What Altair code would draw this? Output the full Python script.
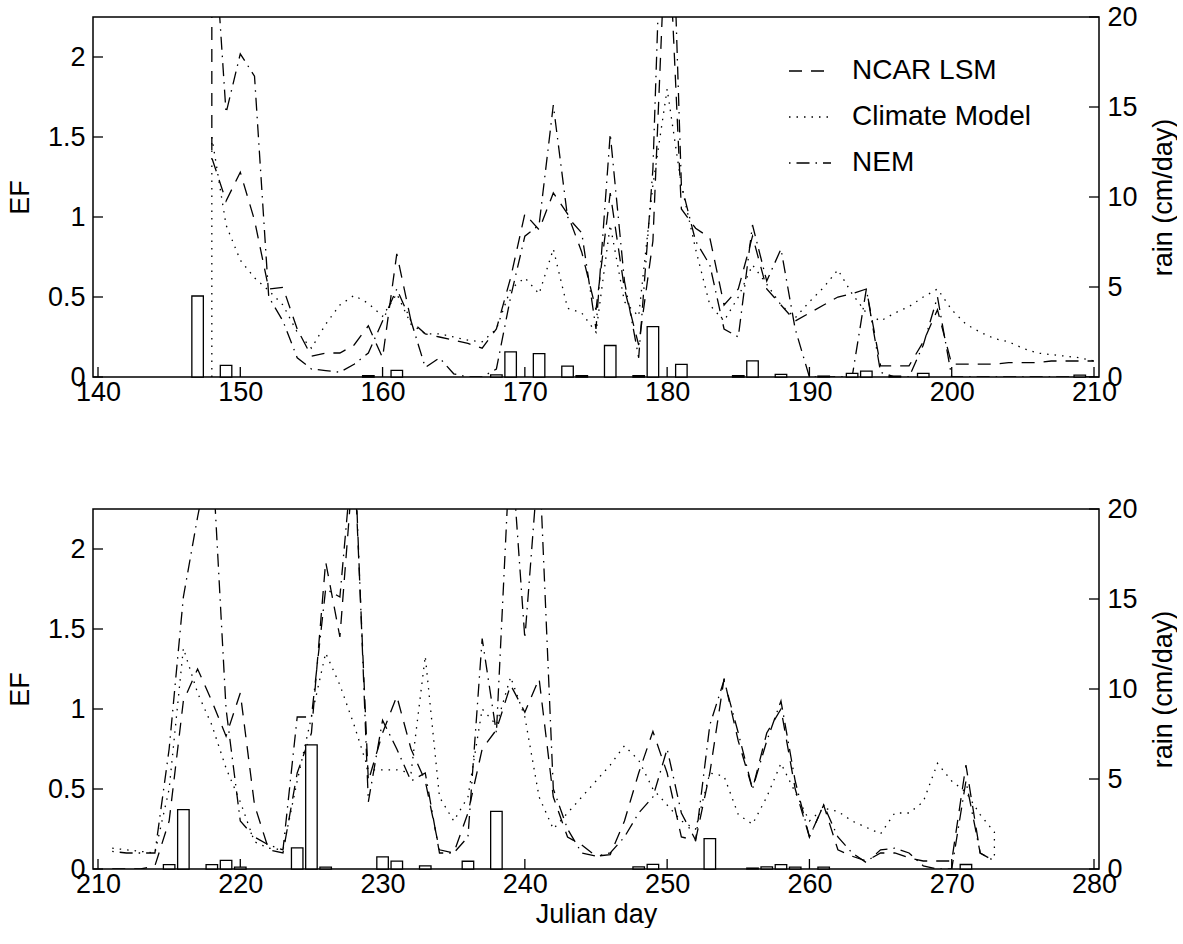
import altair as alt
import pandas as pd

SERIES = ["NCAR LSM", "Climate Model", "NEM"]

# ---------------- top panel (days 140-210) ----------------
top_ncar_days = [148] + list(range(148, 211))
top_ncar = [2.60, 1.37,
            1.10, 1.28, 0.98, 0.55, 0.56, 0.30, 0.13, 0.15, 0.15, 0.20,
            0.32, 0.12, 0.77, 0.35, 0.27, 0.25, 0.23, 0.21, 0.18, 0.30,
            0.62, 1.02, 0.92, 1.15, 1.02, 0.78, 0.42, 1.15, 0.55, 0.20,
            0.85, 3.00, 1.05, 0.93, 0.87, 0.45, 0.55, 0.88, 0.55, 0.45,
            0.35, 0.40, 0.45, 0.50, 0.52, 0.55, 0.07, 0.07, 0.07, 0.22,
            0.42, 0.08, 0.08, 0.08, 0.08, 0.09, 0.09, 0.09, 0.10, 0.10,
            0.10, 0.10]

top_clim_days = [148] + list(range(148, 211))
top_clim = [0.00, 1.50,
            0.95, 0.73, 0.62, 0.54, 0.45, 0.28, 0.18, 0.33, 0.45, 0.51,
            0.46, 0.38, 0.52, 0.33, 0.27, 0.27, 0.25, 0.23, 0.22, 0.30,
            0.55, 0.62, 0.52, 0.80, 0.43, 0.40, 0.28, 0.95, 0.47, 0.38,
            1.20, 1.80, 1.20, 0.80, 0.45, 0.35, 0.50, 0.70, 0.58, 0.45,
            0.37, 0.47, 0.56, 0.67, 0.52, 0.40, 0.35, 0.40, 0.44, 0.50,
            0.55, 0.42, 0.33, 0.28, 0.24, 0.22, 0.18, 0.15, 0.14, 0.13,
            0.12, 0.10]

top_nem_days = list(range(148, 211))
top_nem = [3.00, 1.65, 2.02, 1.88, 0.50, 0.35, 0.12, 0.05, 0.04, 0.03,
           0.08, 0.15, 0.35, 0.55, 0.35, 0.06, 0.12, 0.02, 0.00, 0.00,
           0.05, 0.50, 0.88, 0.95, 1.70, 1.00, 0.90, 0.30, 1.52, 0.60,
           0.12, 1.30, 4.00, 1.20, 0.85, 0.70, 0.30, 0.25, 0.95, 0.60,
           0.80, 0.30, 0.00, 0.00, 0.00, 0.00, 0.55, 0.03, 0.00, 0.00,
           0.20, 0.50, 0.00, 0.00, 0.00, 0.00, 0.00, 0.00, 0.00, 0.00,
           0.00, 0.00, 0.00]

top_rain_days = [147, 149, 159, 161, 168, 169, 171, 173, 174, 176, 178,
                 179, 181, 185, 186, 188, 191, 193, 194, 196, 198, 209]
top_rain = [4.5, 0.65, 0.08, 0.37, 0.12, 1.4, 1.3, 0.6, 0.08, 1.75, 0.08,
            2.8, 0.7, 0.08, 0.9, 0.15, 0.05, 0.2, 0.33, 0.05, 0.2, 0.1]

# ---------------- bottom panel (days 210-280) ----------------
bot_ncar_days = list(range(211, 274))
bot_ncar = [0.00, 0.00, 0.00, 0.02, 0.30, 1.05, 1.25, 1.05, 0.83, 1.10,
            0.40, 0.12, 0.10, 0.60, 0.85, 1.92, 1.45, 2.60, 0.55, 0.85,
            1.08, 0.75, 0.55, 0.12, 0.10, 0.35, 0.75, 0.87, 1.15, 0.98,
            1.19, 0.45, 0.20, 0.15, 0.08, 0.09, 0.30, 0.60, 0.86, 0.60,
            0.20, 0.18, 0.60, 1.19, 0.80, 0.50, 0.85, 1.00, 0.50, 0.20,
            0.40, 0.12, 0.08, 0.05, 0.10, 0.10, 0.07, 0.05, 0.05, 0.05,
            0.65, 0.10, 0.05]

bot_nem_days = list(range(211, 274))
bot_nem = [0.11, 0.10, 0.10, 0.10, 0.75, 1.70, 2.20, 2.65, 1.00, 0.30,
           0.20, 0.15, 0.12, 0.95, 0.95, 1.75, 1.70, 2.70, 0.42, 0.93,
           0.75, 0.55, 0.60, 0.10, 0.10, 0.20, 1.44, 0.85, 2.70, 1.44,
           2.60, 0.50, 0.25, 0.10, 0.08, 0.10, 0.20, 0.35, 0.45, 0.75,
           0.35, 0.18, 0.90, 1.18, 0.85, 0.50, 0.80, 1.05, 0.55, 0.20,
           0.40, 0.20, 0.10, 0.04, 0.12, 0.13, 0.10, 0.02, 0.00, 0.00,
           0.55, 0.10, 0.05]

bot_clim_days = list(range(211, 274)) + [273]
bot_clim = [0.13, 0.12, 0.11, 0.10, 0.50, 1.38, 1.10, 0.90, 0.63, 0.42,
            0.17, 0.13, 0.12, 0.55, 0.95, 1.35, 1.15, 0.90, 0.62, 0.62,
            0.62, 0.60, 1.33, 0.45, 0.30, 0.45, 1.00, 0.90, 1.20, 0.95,
            0.45, 0.25, 0.35, 0.45, 0.55, 0.65, 0.77, 0.68, 0.50, 0.40,
            0.30, 0.25, 0.60, 0.58, 0.34, 0.28, 0.45, 0.66, 0.48, 0.30,
            0.38, 0.36, 0.30, 0.26, 0.22, 0.35, 0.35, 0.42, 0.66, 0.55,
            0.48, 0.34, 0.23,
            0.06]

bot_rain_days = [215, 216, 218, 219, 220, 224, 225, 226, 230, 231, 233,
                 236, 238, 248, 249, 253, 256, 257, 258, 259, 261, 271]
bot_rain = [0.24, 3.3, 0.24, 0.48, 0.1, 1.17, 6.9, 0.1, 0.67, 0.44, 0.17,
            0.43, 3.2, 0.12, 0.26, 1.69, 0.05, 0.12, 0.24, 0.1, 0.1, 0.25]

ef_ticks = [0, 0.5, 1, 1.5, 2]
rain_ticks = [0, 5, 10, 15, 20]
top_xticks = [140, 150, 160, 170, 180, 190, 200, 210]
bot_xticks = [210, 220, 230, 240, 250, 260, 270, 280]

W, H = 1006, 360
FONT = "Liberation Sans"
FS = 27


def series_df(days, vals, name):
    assert len(days) == len(vals), (name, len(days), len(vals))
    return pd.DataFrame({"day": days, "ef": vals, "series": name,
                         "idx": list(range(len(days)))})


def panel(ncar, clim, nem, rain_days, rain_vals, xticks, legend, xtitle):
    lines_df = pd.concat([series_df(*ncar, "NCAR LSM"),
                          series_df(*clim, "Climate Model"),
                          series_df(*nem, "NEM")], ignore_index=True)
    rain_df = pd.DataFrame({"day": rain_days, "rain": rain_vals})

    xaxis = alt.Axis(values=xticks, tickSize=0, labelPadding=2, domain=False,
                     grid=False, labelFontSize=FS, labelFont=FONT,
                     labelColor="black", labelFlush=False,
                     title=xtitle if xtitle else None,
                     titleFontSize=FS, titleFont=FONT,
                     titleFontWeight="normal", titleColor="black",
                     titlePadding=4)
    X = alt.X("day:Q", scale=alt.Scale(domain=[xticks[0], xticks[-1]], nice=False,
                                       zero=False), axis=xaxis)
    yef = alt.Y("ef:Q", scale=alt.Scale(domain=[0, 2.25], nice=False),
                axis=alt.Axis(orient="left", values=ef_ticks, format="~g",
                              tickSize=0, labelPadding=8, domain=False, grid=False,
                              labelFontSize=FS, labelFont=FONT, labelColor="black",
                              labelFlush=False,
                              title="EF", titleFontSize=FS, titleFont=FONT,
                              titleFontWeight="normal", titleColor="black",
                              titlePadding=13))
    yrain = alt.Y("rain:Q", scale=alt.Scale(domain=[0, 20], nice=False),
                  axis=alt.Axis(orient="right", values=rain_ticks, tickSize=0,
                                labelPadding=8, domain=False, grid=False,
                                labelFontSize=FS, labelFont=FONT,
                                labelColor="black", labelFlush=False,
                                title="rain (cm/day)", titleFontSize=FS,
                                titleFont=FONT, titleFontWeight="normal",
                                titleColor="black", titleAngle=270,
                                titlePadding=40))

    if legend:
        leg = alt.Legend(orient="none", legendX=695, legendY=32, title=None,
                         symbolType="stroke", symbolSize=1764,
                         symbolStrokeWidth=1.3, symbolStrokeColor="black",
                         labelFontSize=28, labelFont=FONT, labelColor="black",
                         labelLimit=0, labelOffset=20, rowPadding=10)
    else:
        leg = None

    sdash = alt.StrokeDash("series:N",
                           scale=alt.Scale(domain=SERIES,
                                           range=[[13, 9], [1.5, 6],
                                                  [1.5, 6, 13, 6]]),
                           legend=leg)

    lines = alt.Chart(lines_df).mark_line(clip=True, color="black",
                                          strokeWidth=1.3).encode(
        x=X, y=yef, strokeDash=sdash, detail="series:N", order="idx:Q")

    left_ticks = alt.Chart(pd.DataFrame({"ef": ef_ticks})).mark_rule(
        color="black", strokeWidth=1.3).encode(
        y=yef, x=alt.value(0), x2=alt.value(10))
    x_ticks = alt.Chart(pd.DataFrame({"day": xticks})).mark_rule(
        color="black", strokeWidth=1.3).encode(
        x=X, y=alt.value(H), y2=alt.value(H - 10))

    bars = alt.Chart(rain_df).mark_bar(size=11.5, fill="white", stroke="black",
                                       strokeWidth=1.3).encode(x=X, y=yrain)
    right_ticks = alt.Chart(pd.DataFrame({"rain": rain_ticks})).mark_rule(
        color="black", strokeWidth=1.3).encode(
        y=yrain, x=alt.value(W), x2=alt.value(W - 10))

    return alt.layer(alt.layer(lines, left_ticks, x_ticks),
                     alt.layer(bars, right_ticks)).resolve_scale(
        y="independent").properties(width=W, height=H)


top = panel((top_ncar_days, top_ncar), (top_clim_days, top_clim),
            (top_nem_days, top_nem), top_rain_days, top_rain, top_xticks,
            True, None)
bot = panel((bot_ncar_days, bot_ncar), (bot_clim_days, bot_clim),
            (bot_nem_days, bot_nem), bot_rain_days, bot_rain, bot_xticks,
            False, "Julian day")

chart = alt.vconcat(top, bot, spacing=88).resolve_scale(
    strokeDash="independent", x="independent").resolve_legend(
    strokeDash="independent").properties(
    padding={"left": 5, "top": 2, "right": 0, "bottom": 0},
    background="white").configure_view(stroke="black", strokeWidth=1.5)

chart.save("out.html", embed_options={"renderer": "svg", "actions": False})
